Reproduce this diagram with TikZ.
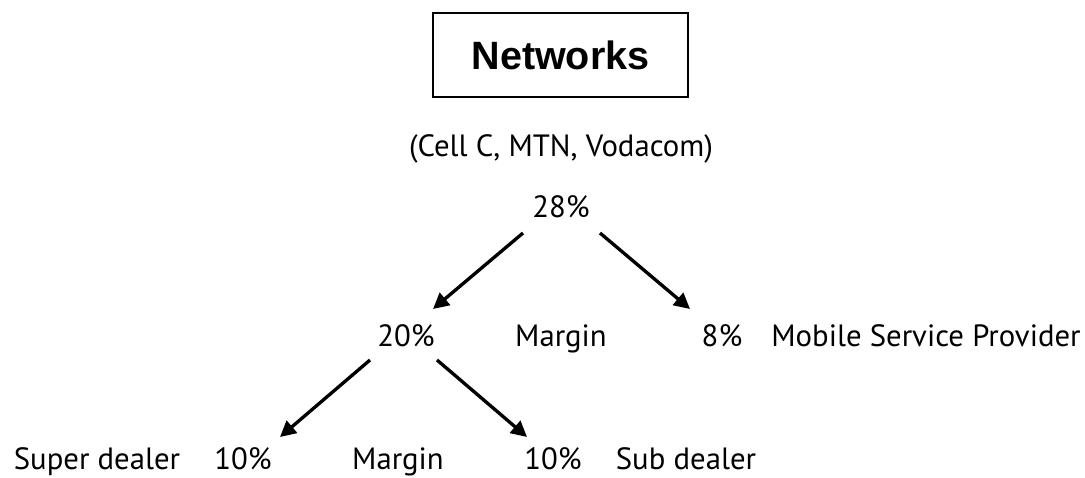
\documentclass[tikz,border=0pt]{standalone}
\usepackage{fontspec}
\setmainfont{PT Sans}
\newfontfamily\netfont{Liberation Sans}
\usetikzlibrary{arrows.meta}
\begin{document}
\begin{tikzpicture}[x=0.02cm,y=-0.02cm,
  lbl/.style={inner sep=0pt,anchor=base,font=\fontsize{17.5}{19}\selectfont},
  flow/.style={line width=1.9pt,-{Triangle[length=9pt,width=9pt]}}]
\useasboundingbox (0,0) rectangle (1085,477);
\node[draw,line width=1.2pt,minimum width=255*0.02cm,minimum height=84*0.02cm,font=\netfont\bfseries\fontsize{22.5}{24}\selectfont] (net) at (560.5,55) {Networks};
\node[lbl] (cell) at (561,156) {(Cell C, MTN, Vodacom)};
\node[lbl] (p28) at (561,217) {28\%};
\node[lbl] (p20) at (406,346) {20\%};
\node[lbl] (m1) at (561,346) {Margin};
\node[lbl] (p8) at (722,346) {8\%};
\node[lbl] (msp) at (926,346) {Mobile Service Provider};
\node[lbl] (sup) at (97,469) {Super dealer};
\node[lbl] (p10a) at (243,469) {10\%};
\node[lbl] (m2) at (398,469) {Margin};
\node[lbl] (p10b) at (553,469) {10\%};
\node[lbl] (sub) at (686,469) {Sub dealer};
\coordinate (a1s) at (523,233); \coordinate (a1e) at (433,309);
\coordinate (a2s) at (600,233); \coordinate (a2e) at (690,309);
\coordinate (a3s) at (370,360); \coordinate (a3e) at (280,437);
\coordinate (a4s) at (437,360); \coordinate (a4e) at (527,437);
\draw[flow] (a1s) -- (a1e);
\draw[flow] (a2s) -- (a2e);
\draw[flow] (a3s) -- (a3e);
\draw[flow] (a4s) -- (a4e);
\end{tikzpicture}
\end{document}
